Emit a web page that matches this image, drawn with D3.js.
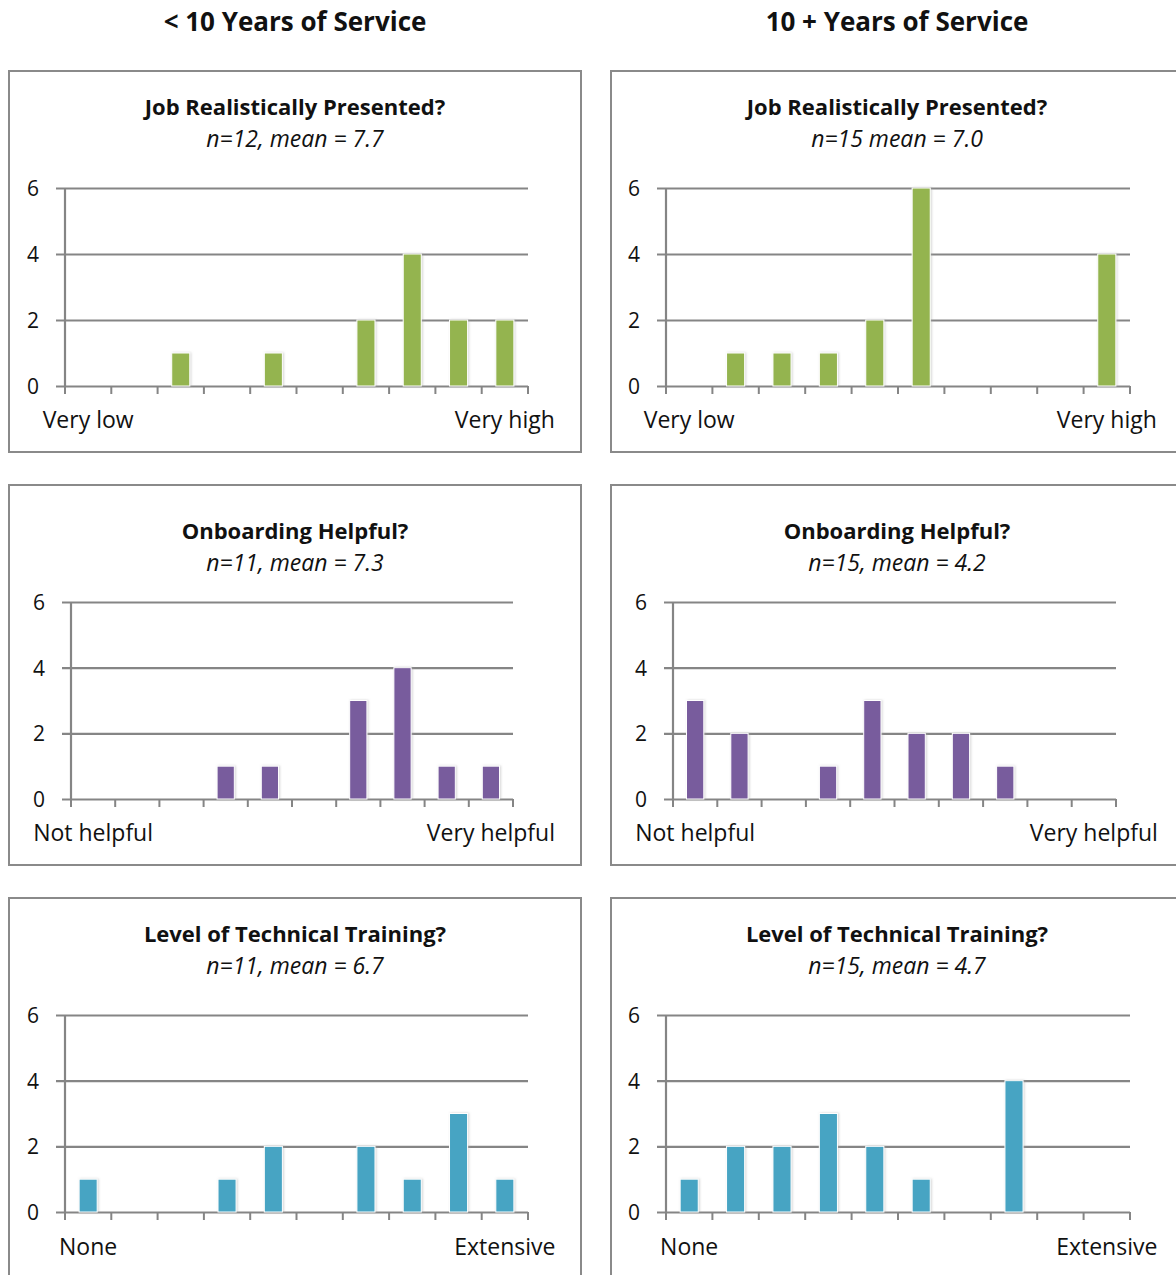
<!DOCTYPE html>
<html><head><meta charset="utf-8">
<script src="https://cdn.jsdelivr.net/npm/d3@7"></script>
<style>
body{margin:0;background:#fff;}
svg{display:block;font-family:"Open Sans",Lato,sans-serif;}
</style></head>
<body><svg id="c" width="1176" height="1275"></svg>
<script>
// ---- data ----
const categories = ["1","2","3","4","5","6","7","8","9","10"];
const columnHeaders = ["< 10 Years of Service", "10 + Years of Service"];
const questions = ["Job Realistically Presented?", "Onboarding Helpful?", "Level of Technical Training?"];
const subtitlesLt10 = ["n=12, mean = 7.7", "n=11, mean = 7.3", "n=11, mean = 6.7"];
const subtitlesGe10 = ["n=15 mean = 7.0", "n=15, mean = 4.2", "n=15, mean = 4.7"];
const endLabelsJob = ["Very low", "Very high"];
const endLabelsOnb = ["Not helpful", "Very helpful"];
const endLabelsTech = ["None", "Extensive"];
const jobLt10  = [0,0,1,0,1,0,2,4,2,2];
const jobGe10  = [0,1,1,1,2,6,0,0,0,4];
const onbLt10  = [0,0,0,1,1,0,3,4,1,1];
const onbGe10  = [3,2,0,1,3,2,2,1,0,0];
const techLt10 = [1,0,0,1,2,0,2,1,3,1];
const techGe10 = [1,2,2,3,2,1,0,4,0,0];
const yTicks = [0,2,4,6];
const seriesColors = ["#94B450", "#785B9D", "#46A4C3"];

// ---- layout ----
const FONT = "'Open Sans', Lato, sans-serif";
const svg = d3.select("#c");
const defs = svg.append("defs");
defs.append("filter").attr("id","sh").attr("x","-30%").attr("y","-10%").attr("width","160%").attr("height","120%")
  .append("feDropShadow").attr("dx",1).attr("dy",0).attr("stdDeviation",1.2).attr("flood-color","#aaa").attr("flood-opacity",0.5);

const colX = [{box:9, w:572}, {box:611, w:572}];
const rows = [
  {top:71, bottom:452, title:107, sub:139, pTop:188, pBot:386, lab:420},
  {top:485, bottom:865, title:531, sub:563, pTop:602, pBot:799, lab:833},
  {top:898, bottom:1290, title:934, sub:966, pTop:1015, pBot:1212, lab:1247}
];
const plotX = [
  [[65,528],[666,1130]],
  [[71,513],[673,1116]],
  [[65,528],[666,1130]]
];
const panelData = [[jobLt10, jobGe10],[onbLt10, onbGe10],[techLt10, techGe10]];
const endLabels = [endLabelsJob, endLabelsOnb, endLabelsTech];
const subs = [subtitlesLt10, subtitlesGe10];

// column headers
columnHeaders.forEach((h,i)=>{
  svg.append("text").attr("x", colX[i].box + colX[i].w/2).attr("y", 22).attr("dy","0.36em")
    .attr("text-anchor","middle").attr("font-size",26).attr("font-weight","bold").attr("fill","#111").text(h);
});

const gridCol = "#858585";
rows.forEach((r, ri)=>{
  [0,1].forEach(ci=>{
    const g = svg.append("g");
    const bx = colX[ci].box, bw = colX[ci].w;
    g.append("rect").attr("x",bx).attr("y",r.top).attr("width",bw).attr("height",r.bottom-r.top)
      .attr("fill","none").attr("stroke","#8a8a8a").attr("stroke-width",2);
    const cx = bx + bw/2;
    g.append("text").attr("x",cx).attr("y",r.title).attr("dy","0.36em").attr("text-anchor","middle")
      .attr("font-size",22).attr("font-weight","bold").attr("fill","#111").text(questions[ri]);
    g.append("text").attr("x",cx).attr("y",r.sub).attr("dy","0.36em").attr("text-anchor","middle")
      .attr("font-size",23).attr("font-style","italic").attr("fill","#111").text(subs[ci][ri]);

    const [x0,x1] = plotX[ri][ci];
    const x = d3.scaleBand().domain(categories).range([x0,x1]).paddingInner(0).paddingOuter(0);
    const y = d3.scaleLinear().domain([0,6]).range([r.pBot, r.pTop]);

    // gridlines + y labels
    const ya = d3.axisLeft(y).tickValues(yTicks).tickSize(-(x1-x0)).tickFormat(d3.format("d")).tickPadding(26);
    const yg = g.append("g").attr("transform",`translate(${x0},0)`).call(ya);
    yg.select(".domain").remove();
    yg.selectAll(".tick line").attr("x1",-9).attr("stroke",gridCol).attr("stroke-width",2.2);
    yg.selectAll(".tick text").attr("font-size",21).attr("fill","#111").attr("font-family",FONT).attr("dy","0.36em");
    // y axis line
    g.append("line").attr("x1",x0).attr("x2",x0).attr("y1",r.pTop).attr("y2",r.pBot)
      .attr("stroke",gridCol).attr("stroke-width",2.2);
    // x ticks at band boundaries
    const bounds = categories.map(c=>x(c)).concat([x1]);
    g.selectAll(".xt").data(bounds).enter().append("line")
      .attr("x1",d=>d).attr("x2",d=>d).attr("y1",r.pBot).attr("y2",r.pBot+8)
      .attr("stroke",gridCol).attr("stroke-width",2);

    // bars
    const vals = panelData[ri][ci];
    const bw2 = x.bandwidth()*0.39;
    g.selectAll(".bar").data(vals.map((v,i)=>({c:categories[i],v}))).enter()
      .filter(d=>d.v>0).append("rect")
      .attr("x",d=>x(d.c)+x.bandwidth()/2-bw2/2).attr("width",bw2)
      .attr("y",d=>y(d.v)).attr("height",d=>y(0)-y(d.v))
      .attr("fill",seriesColors[ri]).attr("stroke","#fff").attr("stroke-width",1)
      .attr("filter","url(#sh)");

    // end labels on first/last categories
    const labs = categories.map((c,i)=> i===0 ? endLabels[ri][0] : (i===categories.length-1 ? endLabels[ri][1] : ""));
    const xa = d3.axisBottom(x).tickSize(0).tickPadding(0).tickFormat((d,i)=>labs[i]);
    const xg = g.append("g").attr("transform",`translate(0,${r.lab})`).call(xa);
    xg.select(".domain").remove();
    xg.selectAll(".tick text").attr("font-size",23).attr("fill","#111").attr("font-family",FONT).attr("dy","0.36em");
  });
});
</script></body></html>
